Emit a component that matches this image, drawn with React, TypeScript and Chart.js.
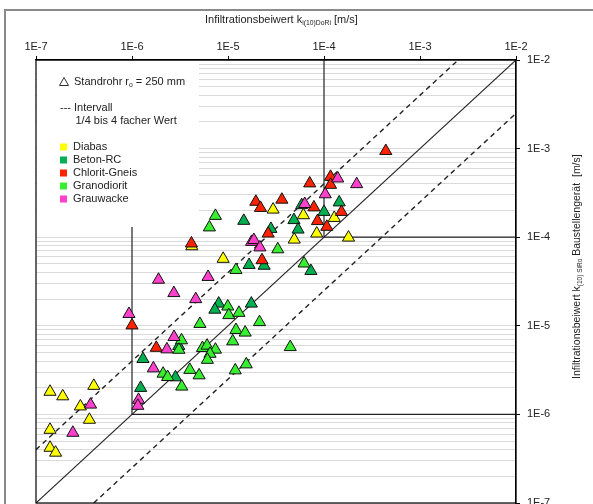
import React, { useEffect, useRef } from 'react';
import { Chart, registerables } from 'chart.js';

Chart.register(...registerables);

const FONT = '"Liberation Sans", Arial, sans-serif';

const seriesNames = ['Diabas', 'Beton-RC', 'Chlorit-Gneis', 'Granodiorit', 'Grauwacke'];
const seriesColors = ['#FFFF00', '#00B050', '#FF2200', '#38EE30', '#FF40CC'];

const decadeLabels = ['1E-7', '1E-6', '1E-5', '1E-4', '1E-3', '1E-2'];
const decadeValues = [1e-7, 1e-6, 1e-5, 1e-4, 1e-3, 1e-2];
const minorMultipliers = [1, 2, 3, 4, 5, 6, 7, 8, 9];

const diabasX = [1.4e-7, 1.9e-7, 4.0e-7, 2.9e-7, 3.6e-7, 1.4e-7, 1.4e-7, 1.6e-7, 4.2e-6, 8.9e-6, 2.95e-5, 6.1e-5, 1.28e-4, 8.4e-5, 4.9e-5, 1.8e-4];
const diabasY = [1.8e-6, 1.6e-6, 2.1e-6, 1.23e-6, 8.7e-7, 6.7e-7, 4.2e-7, 3.7e-7, 7.9e-5, 5.7e-5, 2.05e-4, 1.77e-4, 1.65e-4, 1.1e-4, 9.4e-5, 9.9e-5];

const betonX = [1.46e-5, 5.85e-5, 1.0e-4, 1.44e-4, 4.86e-5, 5.37e-5, 2.8e-5, 1.66e-5, 2.38e-5, 7.3e-5, 8.0e-6, 7.3e-6, 1.75e-5, 3.07e-6, 1.3e-6, 2.84e-6, 1.23e-6];
const betonY = [1.53e-4, 2.3e-4, 1.93e-4, 2.47e-4, 1.56e-4, 1.22e-4, 1.24e-4, 4.86e-5, 4.76e-5, 4.16e-5, 1.78e-5, 1.52e-5, 1.78e-5, 5.92e-6, 4.22e-6, 2.62e-6, 1.99e-6];

const chloritX = [4.4e-4, 7.1e-5, 1.17e-4, 1.17e-4, 1.95e-5, 2.18e-5, 3.64e-5, 7.85e-5, 1.52e-4, 8.55e-5, 1.07e-4, 2.62e-5, 4.16e-6, 2.26e-5, 1.79e-6, 1.0e-6];
const chloritY = [9.4e-4, 4.05e-4, 4.8e-4, 3.9e-4, 2.51e-4, 2.14e-4, 2.65e-4, 2.17e-4, 1.93e-4, 1.52e-4, 1.31e-4, 1.1e-4, 8.5e-5, 5.5e-5, 5.64e-6, 1.01e-5];

const granoX = [7.4e-6, 6.4e-6, 3.3e-5, 1.21e-5, 6.2e-5, 9.95e-6, 1.02e-5, 1.3e-5, 5.1e-6, 2.13e-5, 1.21e-5, 1.51e-5, 1.12e-5, 4.45e-5, 1.55e-5, 1.19e-5, 3.28e-6, 3.08e-6, 5.42e-6, 6.05e-6, 7.4e-6, 6.5e-6, 6.1e-6, 2.11e-6, 2.35e-6, 4.0e-6, 5.0e-6, 3.3e-6];
const granoY = [1.74e-4, 1.29e-4, 7.3e-5, 4.27e-5, 5.05e-5, 1.65e-5, 1.32e-5, 1.4e-5, 1.05e-5, 1.1e-5, 8.97e-6, 8.38e-6, 6.68e-6, 5.75e-6, 3.67e-6, 3.14e-6, 6.86e-6, 5.36e-6, 5.61e-6, 5.97e-6, 5.38e-6, 4.83e-6, 4.13e-6, 2.88e-6, 2.64e-6, 3.18e-6, 2.76e-6, 2.06e-6];

const grauX = [1.39e-4, 2.19e-4, 1.03e-4, 6.3e-5, 1.76e-5, 1.86e-5, 2.15e-5, 6.2e-6, 1.89e-6, 2.73e-6, 4.61e-6, 9.3e-7, 2.74e-6, 2.31e-6, 1.67e-6, 1.17e-6, 1.15e-6, 3.7e-7, 2.42e-7];
const grauY = [4.6e-4, 3.97e-4, 3.05e-4, 2.37e-4, 8.85e-5, 9.3e-5, 7.67e-5, 3.56e-5, 3.31e-5, 2.34e-5, 2.0e-5, 1.36e-5, 7.47e-6, 5.42e-6, 3.31e-6, 1.46e-6, 1.25e-6, 1.29e-6, 6.2e-7];

// reference lines [x, y]
const diagonalLine = [[1e-7, 1e-7], [1e-2, 1e-2]];
const upperIntervalLine = [[1e-7, 4e-7], [2.5e-3, 1e-2]];
const lowerIntervalLine = [[4e-7, 1e-7], [1e-2, 2.5e-3]];
const vertLineLow = [[1e-6, 1e-6], [1e-6, 1.3e-4]];
const vertLineHigh = [[1e-4, 1e-4], [1e-4, 1e-2]];
const horizLineLow = [[1e-6, 1e-6], [1e-2, 1e-6]];
const horizLineHigh = [[1e-4, 1e-4], [1e-2, 1e-4]];

const isDecade = (v: number) => Math.abs(Math.log10(v) - Math.round(Math.log10(v))) < 1e-6;
const decadeLabel = (v: number) => {
  const i = decadeValues.findIndex((d) => Math.abs(Math.log10(d) - Math.log10(v)) < 1e-6);
  return i >= 0 ? decadeLabels[i] : '';
};

function drawRich(ctx: CanvasRenderingContext2D, parts: { t: string; sub?: boolean }[], x: number, y: number, size: number) {
  let cx = x;
  for (const p of parts) {
    const s = p.sub ? size * 0.62 : size;
    ctx.font = `${s}px ${FONT}`;
    ctx.fillText(p.t, cx, p.sub ? y + size * 0.3 : y);
    cx += ctx.measureText(p.t).width;
  }
}

const overlayPlugin = {
  id: 'overlay',
  beforeDraw(chart: any) {
    const ctx = chart.ctx as CanvasRenderingContext2D;
    ctx.save();
    ctx.fillStyle = '#ffffff';
    ctx.fillRect(0, 0, chart.width, chart.height);
    ctx.strokeStyle = '#8a8a8a';
    ctx.lineWidth = 2;
    ctx.strokeRect(5, 10, chart.width + 40, chart.height + 40);
    ctx.restore();
  },
  beforeDatasetsDraw(chart: any) {
    const ctx = chart.ctx as CanvasRenderingContext2D;
    const a = chart.chartArea;
    ctx.save();
    ctx.fillStyle = '#ffffff';
    ctx.fillRect(a.left + 1, a.top + 1, 198 - a.left, 232 - a.top);
    ctx.restore();
  },
  afterDraw(chart: any) {
    const ctx = chart.ctx as CanvasRenderingContext2D;
    const a = chart.chartArea;
    ctx.save();
    // plot frame
    ctx.strokeStyle = '#000';
    ctx.lineWidth = 1.2;
    ctx.strokeRect(a.left, a.top, a.right - a.left, a.bottom - a.top);

    ctx.fillStyle = '#222';
    ctx.textBaseline = 'middle';
    ctx.textAlign = 'left';
    // top title
    drawRich(ctx, [
      { t: 'Infiltrationsbeiwert k' },
      { t: 'i(10)DoRi', sub: true },
      { t: ' [m/s]' },
    ], 205, 20, 11);

    // right title
    ctx.save();
    ctx.translate(577, 379);
    ctx.rotate(-Math.PI / 2);
    drawRich(ctx, [
      { t: 'Infiltrationsbeiwert k' },
      { t: '(10) SiRo', sub: true },
      { t: ' Baustellengerät  [m/s]' },
    ], 0, 0, 10.5);
    ctx.restore();

    // legend
    ctx.strokeStyle = '#333';
    ctx.lineWidth = 1;
    ctx.beginPath();
    ctx.moveTo(64, 77.5);
    ctx.lineTo(68.5, 85.5);
    ctx.lineTo(59.5, 85.5);
    ctx.closePath();
    ctx.stroke();
    drawRich(ctx, [
      { t: 'Standrohr r' },
      { t: 'o', sub: true },
      { t: ' = 250 mm' },
    ], 74, 82, 11);

    ctx.font = `11px ${FONT}`;
    ctx.fillText('---', 60, 108);
    ctx.fillText('Intervall', 74, 108);
    ctx.fillText('1/4 bis 4 facher Wert', 75.5, 121);

    seriesNames.forEach((name, i) => {
      const y = 147 + i * 13;
      ctx.fillStyle = seriesColors[i];
      ctx.fillRect(60, y - 3.5, 7, 7);
      ctx.fillStyle = '#222';
      ctx.fillText(name, 73, y);
    });
    ctx.restore();
  },
};

export default function App() {
  const ref = useRef<HTMLCanvasElement>(null);

  useEffect(() => {
    const canvas = ref.current!;
    const pointSets = [
      { xs: diabasX, ys: diabasY },
      { xs: betonX, ys: betonY },
      { xs: chloritX, ys: chloritY },
      { xs: granoX, ys: granoY },
      { xs: grauX, ys: grauY },
    ];
    const datasets: any[] = pointSets.map((s, i) => ({
      label: seriesNames[i],
      data: s.xs.map((x, j) => ({ x, y: s.ys[j] })),
      pointStyle: 'triangle',
      pointRadius: 7,
      pointHoverRadius: 7,
      backgroundColor: seriesColors[i],
      borderColor: '#111',
      borderWidth: 1,
      showLine: false,
      order: 5 - i,
    }));
    const lineSets = [
      { pts: diagonalLine, dash: [] as number[], w: 1.1 },
      { pts: upperIntervalLine, dash: [5, 4], w: 1.4 },
      { pts: lowerIntervalLine, dash: [5, 4], w: 1.4 },
      { pts: vertLineLow, dash: [] as number[], w: 1.2 },
      { pts: vertLineHigh, dash: [] as number[], w: 1.2 },
      { pts: horizLineLow, dash: [] as number[], w: 1.2 },
      { pts: horizLineHigh, dash: [] as number[], w: 1.2 },
    ];
    lineSets.forEach((l) => {
      datasets.push({
        label: '',
        data: l.pts.map(([x, y]) => ({ x, y })),
        showLine: true,
        pointRadius: 0,
        borderColor: '#222',
        borderWidth: l.w,
        borderDash: l.dash,
        fill: false,
        order: 10,
      });
    });

    const xTicks = decadeValues.slice();
    const yTicks: number[] = [];
    decadeValues.forEach((d, i) => {
      if (i === decadeValues.length - 1) {
        yTicks.push(d);
      } else {
        minorMultipliers.forEach((m) => yTicks.push(d * m));
      }
    });

    const chart = new Chart(canvas, {
      type: 'scatter',
      data: { datasets },
      options: {
        animation: false,
        responsive: false,
        devicePixelRatio: 1,
        layout: { autoPadding: false, padding: { left: 36, right: 0, top: 0, bottom: 1 } },
        plugins: { legend: { display: false }, tooltip: { enabled: false } },
        scales: {
          x: {
            type: 'logarithmic',
            position: 'top',
            min: 1e-7,
            max: 1e-2,
            afterBuildTicks: (s: any) => {
              s.ticks = xTicks.map((v) => ({ value: v }));
            },
            afterFit: (s: any) => {
              s.height = 60;
              s.paddingLeft = 0;
              s.paddingRight = 0;
            },
            ticks: {
              autoSkip: false,
              maxRotation: 0,
              padding: 2,
              color: '#222',
              font: { family: FONT, size: 11 },
              callback: (v: any) => decadeLabel(Number(v)),
            },
            grid: { drawOnChartArea: false, drawTicks: true, tickLength: 4, tickColor: '#000' },
            border: { display: true, color: '#000', width: 1.2 },
          },
          y: {
            type: 'logarithmic',
            position: 'right',
            min: 1e-7,
            max: 1e-2,
            afterBuildTicks: (s: any) => {
              s.ticks = yTicks.map((v) => ({ value: v }));
            },
            afterFit: (s: any) => {
              s.width = 77;
              s.paddingTop = 0;
              s.paddingBottom = 0;
            },
            ticks: {
              autoSkip: false,
              padding: 7,
              color: '#222',
              font: { family: FONT, size: 11 },
              callback: (v: any) => (isDecade(Number(v)) ? decadeLabel(Number(v)) : ''),
            },
            grid: {
              color: '#dadada',
              lineWidth: 1,
              drawTicks: true,
              tickLength: 4,
              tickColor: (c: any) => (c.tick && isDecade(c.tick.value) ? '#000' : 'rgba(0,0,0,0)'),
            },
            border: { display: true, color: '#000', width: 1.2 },
          },
        },
      } as any,
      plugins: [overlayPlugin],
    });
    return () => chart.destroy();
  }, []);

  return (
    <div style={{ position: 'absolute', left: 0, top: 0, width: 593, height: 504 }}>
      <canvas ref={ref} width={593} height={504} style={{ display: 'block', width: 593, height: 504 }} />
    </div>
  );
}
